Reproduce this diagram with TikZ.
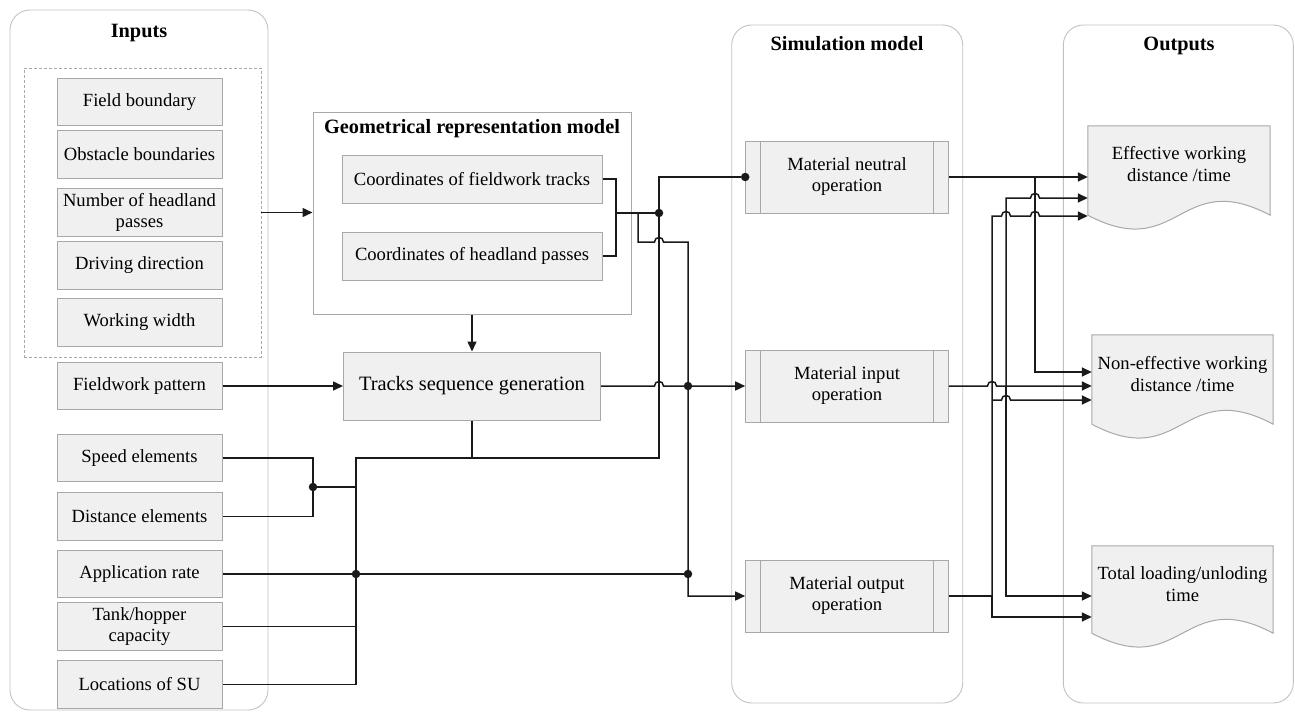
\documentclass[tikz,border=0pt]{standalone}
\usepackage{fontspec}
\setmainfont{Liberation Serif}
\usetikzlibrary{arrows.meta,calc}

\definecolor{boxfill}{HTML}{F0F0F0}
\definecolor{boxline}{HTML}{A8A8A8}
\definecolor{panelline}{HTML}{C2C2C2}
\definecolor{wirecol}{HTML}{1A1A1A}

\tikzset{
  panel/.style={draw=panelline, line width=0.9pt, rounded corners=20pt, inner sep=0pt},
  paneltitle/.style={font=\fontsize{20.3}{24}\selectfont\bfseries, inner sep=0pt, anchor=base},
  ibox/.style={draw=boxline, fill=boxfill, line width=1pt, inner sep=0pt,
    minimum width=165pt, minimum height=47.5pt, align=center,
    font=\fontsize{18.6}{21}\selectfont},
  cbox/.style={ibox, minimum width=260pt, minimum height=48pt},
  tbox/.style={ibox, minimum width=257pt, minimum height=68pt, font=\fontsize{20.4}{24}\selectfont},
  group/.style={draw=boxline, line width=0.9pt, dash pattern=on 3pt off 2pt, inner sep=0pt,
    minimum width=237pt, minimum height=289pt},
  geobox/.style={draw=boxline, fill=white, line width=1pt, inner sep=0pt,
    minimum width=318pt, minimum height=202pt},
  procbox/.style={ibox, minimum width=202.6pt, minimum height=72pt,
    path picture={
      \draw[boxline, line width=1pt]
        ([xshift=14.5pt]path picture bounding box.north west) --
        ([xshift=14.5pt]path picture bounding box.south west);
      \draw[boxline, line width=1pt]
        ([xshift=-14.5pt]path picture bounding box.north east) --
        ([xshift=-14.5pt]path picture bounding box.south east);
    }},
  docbox/.style={inner sep=0pt, minimum width=181pt, minimum height=89pt},
  docline/.style={draw=boxline, fill=boxfill, line width=1pt},
  doctext/.style={align=center, inner sep=0pt, font=\fontsize{18.6}{22}\selectfont},
  wire/.style={draw=wirecol, line width=1.5pt},
  arr/.style={wire, -{Triangle[length=10pt,width=9pt]}},
  dot/.style={circle, fill=wirecol, inner sep=0pt, minimum size=8.5pt},
  % small bridge where a horizontal wire passes over a vertical one
  hop/.style args={#1/#2}{insert path={-- (#1-4.5,#2) .. controls (#1-4.5,#2-6) and (#1+4.5,#2-6) .. (#1+4.5,#2)}}
}

% document-shaped outline with a wavy lower edge
\newcommand\docoutline[1]{%
  \path[docline] (#1.north west) -- (#1.north east) -- (#1.south east)
    .. controls ($(#1.south)+(0,-48)$) and ($(#1.south)+(0,48)$) .. (#1.south west) -- cycle;}

\begin{document}
\begin{tikzpicture}[x=1pt, y=-1pt]
\useasboundingbox (0,0) rectangle (1295,712);

% ---- panels ----
\node[panel, minimum width=258pt, minimum height=700pt] (inpanel) at (139,360) {};
\node[panel, minimum width=231pt, minimum height=678pt] (simpanel) at (847.2,364) {};
\node[panel, minimum width=230pt, minimum height=678pt] (outpanel) at (1178.3,364) {};
\node[paneltitle] (intitle) at (139,37) {Inputs};
\node[paneltitle] (simtitle) at (847,50) {Simulation model};
\node[paneltitle] (outtitle) at (1179,50) {Outputs};

% ---- inputs ----
\node[group] (grp) at (142.5,212.5) {};
\node[ibox] (fb) at (139.5,102)   {Field boundary};
\node[ibox] (ob) at (139.5,154.5) {Obstacle boundaries};
\node[ibox] (nh) at (139.5,212.5) {Number of headland\\passes};
\node[ibox] (dd) at (139.5,265.5) {Driving direction};
\node[ibox] (ww) at (139.5,322.5) {Working width};
\node[ibox] (fp) at (139.5,386)   {Fieldwork pattern};
\node[ibox] (se) at (139.5,458)   {Speed elements};
\node[ibox] (de) at (139.5,516.5) {Distance elements};
\node[ibox] (ar) at (139.5,574)   {Application rate};
\node[ibox] (th) at (139.5,626.5) {Tank/hopper\\capacity};
\node[ibox] (ls) at (139.5,684.5) {Locations of SU};

% ---- geometrical model and track sequencing ----
\node[geobox] (geo) at (472,213) {};
\node[paneltitle] (geotitle) at (472,133) {Geometrical representation model};
\node[cbox] (cft) at (472,179) {Coordinates of fieldwork tracks};
\node[cbox] (chp) at (472,256) {Coordinates of headland passes};
\node[tbox] (trk) at (472,386) {Tracks sequence generation};

% ---- simulation model ----
\node[procbox] (mn) at (847,177) {Material neutral\\operation};
\node[procbox] (mi) at (847,386) {Material input\\operation};
\node[procbox] (mo) at (847,596) {Material output\\operation};

% ---- outputs ----
\node[docbox, minimum width=182pt] (ef) at (1179,170.5) {};
\docoutline{ef}
\node[doctext] (eft) at ($(ef.center)+(0,-6)$) {Effective working\\distance /time};
\node[docbox] (ne) at (1182.5,379.5) {};
\docoutline{ne}
\node[doctext] (net) at ($(ne.center)+(0,-5.5)$) {Non-effective working\\distance /time};
\node[docbox, minimum height=87pt] (tl) at (1182.5,589.5) {};
\docoutline{tl}
\node[doctext] (tlt) at ($(tl.center)+(0,-5.5)$) {Total loading/unloding\\time};

% ---- junctions ----
\coordinate (j1) at (616,213);
\coordinate (j2) at (638,213);
\coordinate (k1) at (688,242);
\coordinate (c1) at (659,458);
\coordinate (c2) at (356,458);
\node[dot] (d1) at (659,213) {};
\node[dot] (d2) at (313,487) {};
\node[dot] (d3) at (356,574) {};
\node[dot] (d4) at (688,574) {};
\node[dot] (d5) at (688,386) {};
\node[dot] (d6) at (mn.west) {};
\coordinate (r1) at (1035,177);
\coordinate (r1b) at (1035,372);
\coordinate (r2) at (1006,386);
\coordinate (r2t) at (1006,198);
\coordinate (r2b) at (1006,596);
\coordinate (r3) at (992,596);
\coordinate (r3t) at (992,216);
\coordinate (r3m) at (992,400);
\coordinate (r3b) at (992,617);

% ---- left-hand wiring ----
\draw[arr] (grp.east) -- (grp.east -| geo.west);
\draw[arr] (geo.south) -- (trk.north);
\draw[arr] (fp.east) -- (trk.west);
\draw[wire] (cft.east) -| (j1) |- (chp.east);
\draw[wire] (j1) -- (d1);
\draw[wire] (d6) -| (d1);
\draw[wire] (d1) -- (c1) -- (c2) -- (c2 |- ls.east) -- (ls.east);
\draw[wire] (trk.south) -- (trk.south |- c1);
\draw[wire] (se.east) -| (d2) |- (de.east);
\draw[wire] (d2) -- (d2 -| c2);
\draw[wire] (th.east) -- (th.east -| c2);
\draw[wire] (ar.east) -- (d4);
\draw[arr] (j2) -- (j2 |- k1) [hop=659/242] -- (k1) |- (mo.west);
\draw[arr] (trk.east) [hop=659/386] -- (mi.west);

% ---- right-hand wiring ----
\draw[arr] (mn.east) -- (mn.east -| ef.west);
\draw[arr] (r1) -- (r1b) -- (r1b -| ne.west);
\draw[arr] (mi.east) [hop=992/386] -- (mi.east -| ne.west);
\draw[arr] (r2) -- (r2t) [hop=1035/198] -- (r2t -| ef.west);
\draw[arr] (r2) -- (r2b) -- (r2b -| tl.west);
\draw[wire] (mo.east) -- (r3);
\draw[arr] (r3) -- (r3t) [hop=1006/216] [hop=1035/216] -- (r3t -| ef.west);
\draw[arr] (r3m) [hop=1006/400] -- (r3m -| ne.west);
\draw[arr] (r3) -- (r3b) -- (r3b -| tl.west);
\end{tikzpicture}
\end{document}
